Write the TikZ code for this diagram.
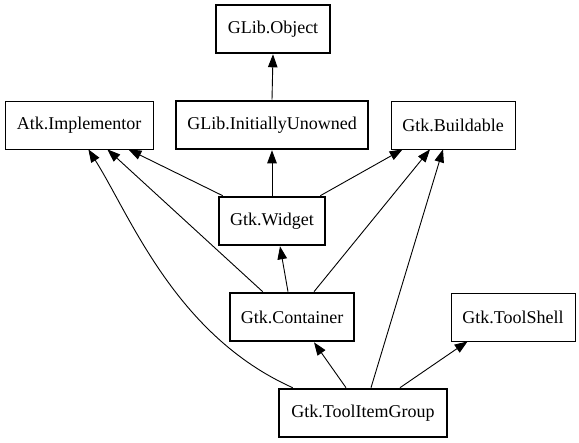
\documentclass[tikz,border=0pt]{standalone}
\usepackage{fontspec}
\setmainfont{Liberation Serif}
\usetikzlibrary{arrows.meta}
\begin{document}
\begin{tikzpicture}[x=1pt,y=-1pt,
  cls/.style={draw, rectangle, inner sep=0pt, minimum height=48pt, font=\fontsize{18}{20}\selectfont, line width=0.7pt},
  thick cls/.style={cls, line width=2.6pt},
  edge/.style={line width=0.9pt, -{Triangle[length=13pt,width=9.5pt]}}]
\useasboundingbox (0,0) rectangle (579,443);
\node[thick cls, minimum width=114pt] (obj) at (273,29) {GLib.Object};
\node[cls, minimum width=148pt] (atk) at (79,125) {Atk.Implementor};
\node[thick cls, minimum width=192pt] (unowned) at (272,125) {GLib.InitiallyUnowned};
\node[cls, minimum width=124pt] (build) at (453,125) {Gtk.Buildable};
\node[thick cls, minimum width=106pt] (widget) at (272,221) {Gtk.Widget};
\node[thick cls, minimum width=124pt] (cont) at (292,317) {Gtk.Container};
\node[cls, minimum width=124pt] (shell) at (513,317) {Gtk.ToolShell};
\node[thick cls, minimum width=168pt] (group) at (363,413) {Gtk.ToolItemGroup};

\draw[edge] (unowned.north) -- (obj.south);
\draw[edge] (widget.north) -- (unowned.south);
\draw[edge] ([xshift=5pt]widget.north west) -- ([xshift=-25pt]atk.south east);
\draw[edge] ([xshift=-6pt]widget.north east) -- ([xshift=12pt]build.south west);
\draw[edge] ([xshift=34pt]cont.north west) -- ([xshift=-46pt]atk.south east);
\draw[edge] ([xshift=-4pt]cont.north) -- ([xshift=8pt]widget.south);
\draw[edge] ([xshift=22pt]cont.north) -- ([xshift=-23pt]build.south);
\draw[edge] ([xshift=15pt]group.north west) .. controls (175,335) and (130,215) .. ([xshift=-65pt]atk.south east);
\draw[edge] ([xshift=-17pt]group.north) -- ([xshift=22pt]cont.south);
\draw[edge] ([xshift=8pt]group.north) -- ([xshift=-10pt]build.south);
\draw[edge] ([xshift=37pt]group.north) -- ([xshift=17pt]shell.south west);
\end{tikzpicture}
\end{document}
